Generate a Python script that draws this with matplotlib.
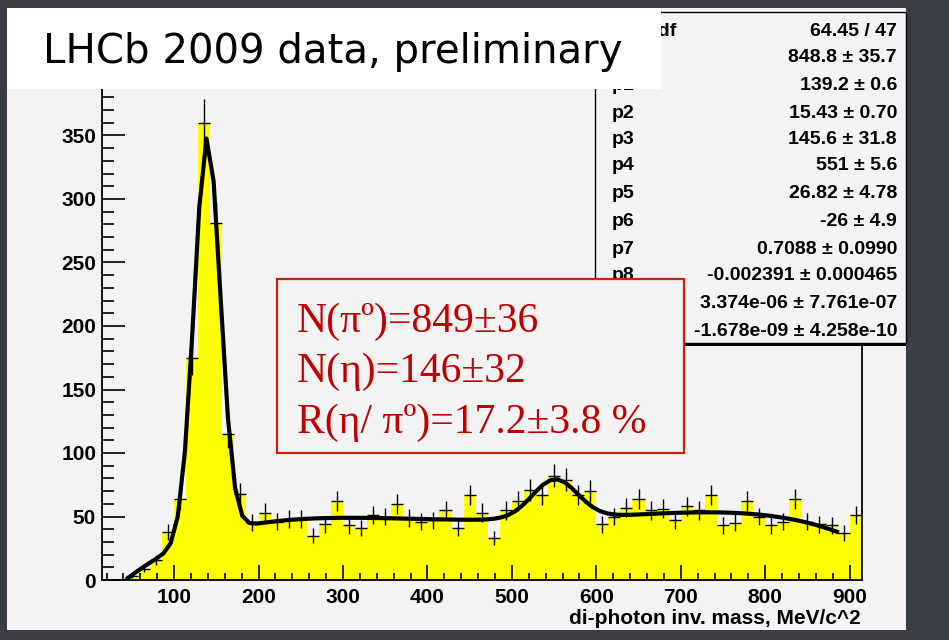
import numpy as np
import matplotlib
matplotlib.use("Agg")
import matplotlib.pyplot as plt
from matplotlib.patches import Rectangle
from matplotlib.ticker import MultipleLocator

# di-photon mass histogram: 70 bins over 0-1000, bins 1..63 shown
bin_width = 1000.0 / 70
edges = np.arange(1, 65) * bin_width
counts = [0, 0, 3, 9, 16, 38, 64, 175, 360, 281,
          115, 68, 45, 53, 46, 48, 48, 35, 44, 62,
          43, 41, 51, 50, 60, 49, 46, 47, 55, 41,
          67, 53, 33, 55, 62, 71, 67, 82, 79, 67,
          70, 44, 50, 57, 64, 55, 56, 47, 58, 55,
          67, 43, 45, 62, 50, 43, 46, 64, 46, 44,
          43, 37, 51]

# fit parameters (two gaussians + 4th order polynomial)
fit_names = ["\u03c7\u00b2 / ndf", "p0", "p1", "p2", "p3", "p4", "p5",
             "p6", "p7", "p8", "p9", "p10"]
fit_text = ["64.45 / 47", "848.8 \u00b1 35.7", "139.2 \u00b1 0.6",
            "15.43 \u00b1 0.70", "145.6 \u00b1 31.8", "551 \u00b1 5.6",
            "26.82 \u00b1 4.78", "-26 \u00b1 4.9", "0.7088 \u00b1 0.0990",
            "-0.002391 \u00b1 0.000465", "3.374e-06 \u00b1 7.761e-07",
            "-1.678e-09 \u00b1 4.258e-10"]
fit_pars = [848.8, 139.2, 15.43, 145.6, 551, 26.82,
            -26, 0.7088, -0.002391, 3.374e-06, -1.678e-09]
fit_range = (45, 885)

summary = ["N(\u03c0\u00ba)=849\u00b136",
           "N(\u03b7)=146\u00b132",
           "R(\u03b7/ \u03c0\u00ba)=17.2\u00b13.8 %"]

W, H = 949, 640
BG = "#3b3d44"
PAD = "#f5f2f5"


def fx(px):
    return px / W


def fy(py):
    return 1 - py / H


def fit_func(x, p):
    g1 = p[0] * bin_width / (np.sqrt(2 * np.pi) * p[2]) * np.exp(-0.5 * ((x - p[1]) / p[2]) ** 2)
    g2 = p[3] * bin_width / (np.sqrt(2 * np.pi) * p[5]) * np.exp(-0.5 * ((x - p[4]) / p[5]) ** 2)
    bg = p[6] + p[7] * x + p[8] * x ** 2 + p[9] * x ** 3 + p[10] * x ** 4
    return g1 + g2 + bg


fig = plt.figure(figsize=(W / 100, H / 100), dpi=100, facecolor=BG)

# canvas area
fig.patches.append(Rectangle((fx(7), fy(630)), fx(906) - fx(7), fy(8) - fy(630),
                             transform=fig.transFigure, facecolor=PAD,
                             edgecolor="none", zorder=-10))

ymax = 395
ax_l, ax_r, ax_b = 101.7, 861.7, 580
ax_t = ax_b - ymax * 1.27
ax = fig.add_axes([fx(ax_l), fy(ax_b), fx(ax_r) - fx(ax_l), fy(ax_t) - fy(ax_b)])
ax.set_facecolor(PAD)

counts = np.array(counts, dtype=float)
centers = 0.5 * (edges[:-1] + edges[1:])
ax.stairs(counts, edges, fill=True, color="#ffff00", lw=0)
nz = counts > 0
ax.errorbar(centers[nz], counts[nz], yerr=np.sqrt(counts[nz]), xerr=bin_width / 2,
            fmt="none", ecolor="black", elinewidth=1.0, capsize=0)

xf = np.linspace(fit_range[0], fit_range[1], 100)
ax.plot(xf, fit_func(xf, fit_pars), color="black", lw=3.0)

ax.set_xlim(edges[0], edges[-1])
ax.set_ylim(0, ymax)
ax.xaxis.set_major_locator(MultipleLocator(100))
ax.xaxis.set_minor_locator(MultipleLocator(20))
ax.yaxis.set_major_locator(MultipleLocator(50))
ax.yaxis.set_minor_locator(MultipleLocator(10))
ax.tick_params(axis="x", which="major", direction="in", length=10.8, width=1.2, pad=6,
               labelsize=15)
ax.tick_params(axis="x", which="minor", direction="in", length=5.4, width=1.2)
ax.tick_params(axis="y", which="major", direction="in", length=16.6, width=1.2, pad=4,
               labelsize=15)
ax.tick_params(axis="y", which="minor", direction="in", length=8.3, width=1.2)
for lab in ax.get_xticklabels() + ax.get_yticklabels():
    lab.set_fontweight("bold")
    lab.set_family("Liberation Sans")
for sp in ax.spines.values():
    sp.set_linewidth(1.3)

fig.text(fx(861), fy(618), "di-photon inv. mass, MeV/c^2", ha="right", va="center",
         fontsize=15, fontweight="bold", family="Liberation Sans")

# statistics box with shadow
sx0, sy0, sx1, sy1 = 595, 12, 906, 343
fig.patches.append(Rectangle((fx(sx0 + 3), fy(sy1 + 3)), fx(sx1) - fx(sx0 + 3), fy(sy0) - fy(sy1),
                             transform=fig.transFigure, facecolor="black",
                             edgecolor="none", zorder=5))
fig.patches.append(Rectangle((fx(sx0), fy(sy1)), fx(sx1) - fx(sx0), fy(sy0) - fy(sy1),
                             transform=fig.transFigure, facecolor=PAD,
                             edgecolor="black", lw=1.0, zorder=6))
row_y = [28, 55, 83, 110, 137, 163, 190, 218, 246, 273, 301, 328]
for name, val, yy in zip(fit_names, fit_text, row_y):
    # the p0 label sits fully behind the title banner, so it is left out
    if name != "p0":
        fig.text(fx(612), fy(yy + 7.5), name, ha="left", va="baseline", fontsize=14,
                 fontweight="bold", family="Liberation Sans", zorder=7)
    fig.text(fx(897), fy(yy + 7.5), val, ha="right", va="baseline", fontsize=14,
             fontweight="bold", family="Liberation Sans", zorder=7)

# yield summary box
fig.patches.append(Rectangle((fx(277), fy(453)), fx(684) - fx(277), fy(279) - fy(453),
                             transform=fig.transFigure, facecolor="#f3f3f3",
                             edgecolor="#cc2200", lw=1.6, zorder=8))
for line, yb in zip(summary, [331.7, 381.7, 433]):
    fig.text(fx(297), fy(yb), line, ha="left", va="baseline", fontsize=30,
             color="#c00000", family="Liberation Serif", zorder=9)

# title banner
fig.patches.append(Rectangle((fx(7), fy(89)), fx(661) - fx(7), fy(8) - fy(89),
                             transform=fig.transFigure, facecolor="white",
                             edgecolor="none", zorder=10))
fig.text(fx(43), fy(63), "LHCb 2009 data, preliminary", ha="left", va="baseline",
         fontsize=29, color="black", family="DejaVu Sans", zorder=11)

fig.savefig("out.png", dpi=100, facecolor=BG)
